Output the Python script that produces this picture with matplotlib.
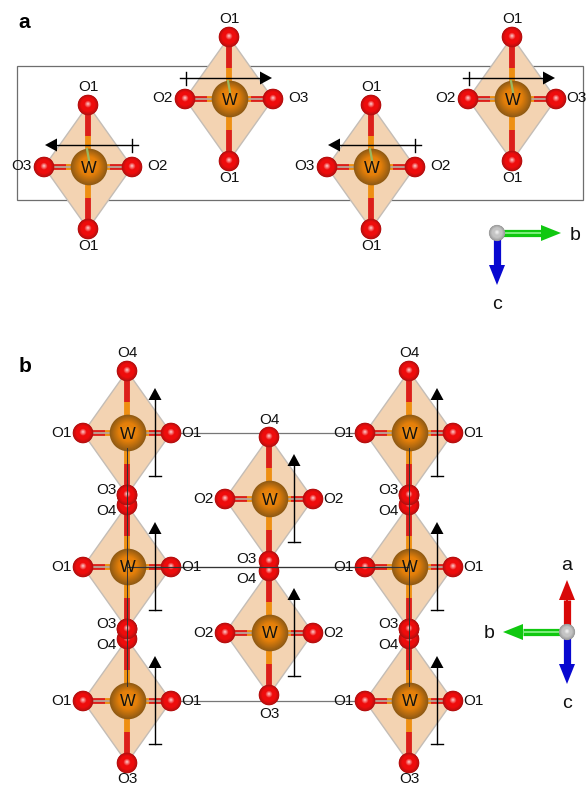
import matplotlib
matplotlib.use("Agg")
import matplotlib.pyplot as plt
import numpy as np
from matplotlib.colors import to_rgb
from matplotlib.patches import Circle, Polygon, Rectangle

plt.rcParams["font.family"] = ["Liberation Sans", "DejaVu Sans"]

# centres of the WO6 octahedra in pixels
panel_a_x = [88, 229, 371, 512]
panel_a_y = [167, 99, 167, 99]
panel_a_left = ["O3", "O2", "O3", "O2"]
panel_a_right = ["O2", "O3", "O2", "O3"]
panel_a_dir = [-1, 1, -1, 1]

panel_b_x = [127, 127, 127, 269, 269, 409, 409, 409]
panel_b_y = [433, 567, 701, 499, 633, 433, 567, 701]
panel_b_side = ["O1", "O1", "O1", "O2", "O2", "O1", "O1", "O1"]
panel_b_top = ["O4", "O4", "O4", "O4", "O4", "O4", "O4", "O4"]
panel_b_bottom = ["O3", "O3", "O3", "O3", "O3", "O3", "O3", "O3"]

cell_a = (17, 66, 583, 200)
cell_b_rows = [433, 567, 701]
cell_b_cols = [127, 409]

DX, DY = 44, 62
GOLD = "#f3d3b2"
ORANGE = "#ee8f12"
RED = "#dc1f1a"


def sphere(ax, x, y, r, dark, mid, light, z, ramp=2.5):
    dark, mid, light = map(np.array, map(to_rgb, (dark, mid, light)))
    steps = 30
    for i in range(steps):
        t = i / (steps - 1)
        col = dark + (mid - dark) * min(t * ramp, 1) + (light - mid) * max(t - 0.65, 0) / 0.35
        rr = r * (1 - t) + 0.3
        off = r * 0.12 * t
        ax.add_patch(Circle((x, y - off), rr, fc=np.clip(col, 0, 1), ec="none", zorder=z + i * 0.001))


def oxygen(ax, x, y, z=5):
    sphere(ax, x, y, 10, "#b01010", "#ee0c0c", "#ffc8c8", z, ramp=3)


def tungsten(ax, x, y):
    sphere(ax, x + 1, y, 18, "#8f5a14", "#e5800a", "#f2a02a", 4, ramp=2)


def bond(ax, x0, y0, x1, y1, horizontal):
    # red half at the oxygen end, orange half at the tungsten end
    xm, ym = (x0 + x1) / 2, (y0 + y1) / 2
    ax.plot([x0, xm], [y0, ym], color=ORANGE, lw=4.2, solid_capstyle="butt", zorder=3)
    ax.plot([xm, x1], [ym, y1], color=RED, lw=4.2, solid_capstyle="butt", zorder=3)
    if horizontal:
        ax.plot([x0, x1], [y0, y1], color="#b9a79a", lw=1.3, zorder=3.1)


def octahedron(ax, cx, cy, wedge=False):
    pts = [(cx, cy - DY), (cx + DX, cy), (cx, cy + DY), (cx - DX, cy)]
    ax.add_patch(Polygon(pts, closed=True, fc=GOLD, ec="#c4bdb6", lw=1.0, zorder=2))
    for ox, oy in pts:
        bond(ax, cx, cy, ox, oy, oy == cy)
    tungsten(ax, cx, cy)
    if wedge:
        ax.plot([cx - 1, cx + 1], [cy - 18, cy - 7], color="#9cb860", lw=1.6, zorder=4.5)
    for ox, oy in pts:
        oxygen(ax, ox, oy)
    ax.text(cx + 1, cy + 1, "W", ha="center", va="center", fontsize=12, color="#111111", zorder=8)


def moment(ax, x0, y0, x1, y1):
    # spin arrow: plain tick near the tail, filled head at the tip
    ax.plot([x0, x1], [y0, y1], color="black", lw=1.0, zorder=9)
    if y0 == y1:
        s = np.sign(x1 - x0)
        ax.plot([x0 + s * 6] * 2, [y0 - 6.5, y0 + 6.5], color="black", lw=1.0, zorder=9)
        ax.add_patch(Polygon([(x1 + s * 11, y1), (x1 - s * 1, y1 - 6.5), (x1 - s * 1, y1 + 6.5)],
                             fc="black", ec="none", zorder=9))
    else:
        ax.plot([x0 - 6, x0 + 6], [y0, y0], color="black", lw=1.0, zorder=9)
        ax.add_patch(Polygon([(x1, y1 - 11), (x1 - 6.5, y1 + 1), (x1 + 6.5, y1 + 1)],
                             fc="black", ec="none", zorder=9))


def axis_arrow(ax, x0, y0, dx, dy, color, light):
    length = np.hypot(dx, dy)
    ux, uy = dx / length, dy / length
    nx, ny = -uy, ux
    bx, by = x0 + dx - ux * 20, y0 + dy - uy * 20
    ax.plot([x0, bx], [y0, by], color=color, lw=5.2, solid_capstyle="butt", zorder=3)
    ax.plot([x0, bx], [y0, by], color=light, lw=1.4, solid_capstyle="butt", zorder=3.1)
    ax.add_patch(Polygon([(x0 + dx, y0 + dy), (bx + nx * 8, by + ny * 8), (bx - nx * 8, by - ny * 8)],
                         fc=color, ec="none", zorder=3.2))


def label(ax, x, y, s, size=11):
    ax.text(x, y, s, ha="center", va="center", fontsize=size, color="#111111", zorder=10)


fig = plt.figure(figsize=(5.88, 7.89), dpi=100, facecolor="white")
ax = fig.add_axes([0, 0, 1, 1])
ax.set_xlim(0, 588)
ax.set_ylim(789, 0)
ax.axis("off")

# panel a
x0, y0, x1, y1 = cell_a
ax.add_patch(Rectangle((x0, y0), x1 - x0, y1 - y0, fc="none", ec="#6e6e6e", lw=0.9, zorder=1))
for cx, cy, left, right, d in zip(panel_a_x, panel_a_y, panel_a_left, panel_a_right, panel_a_dir):
    octahedron(ax, cx, cy, wedge=True)
    label(ax, cx, cy - DY - 18, "O1")
    label(ax, cx, cy + DY + 17, "O1")
    label(ax, cx - DX - 23, cy - 1, left)
    label(ax, min(cx + DX + 25, 576), cy - 1, right)
    if d < 0:
        moment(ax, cx + 50, cy - 22, cx - 32, cy - 22)
    else:
        moment(ax, cx - 49, cy - 21, cx + 32, cy - 21)

# panel b, cell edges first
for y, c in zip(cell_b_rows, ["#777777", "#444444", "#777777"]):
    ax.plot(cell_b_cols, [y, y], color=c, lw=0.9, zorder=1)

for cx, cy, side in zip(panel_b_x, panel_b_y, panel_b_side):
    octahedron(ax, cx, cy)
    label(ax, cx - DX - 22, cy, side)
    label(ax, cx + DX + 20, cy, side)
    off = 25 if cx == 269 else 28
    moment(ax, cx + off, cy + 43, cx + off, cy - 34)

for c in cell_b_cols:
    ax.plot([c, c], [cell_b_rows[0] + 15, cell_b_rows[-1] - 15], color="#333333", lw=0.7, zorder=7)
ax.plot(cell_b_cols, [cell_b_rows[1]] * 2, color="#333333", lw=0.8, zorder=7)

# the O3/O4 pairs that overlap between stacked octahedra
for cx, cy in zip(panel_b_x, panel_b_y):
    if cy + DY + 20 < 720 and cx != 269:
        oxygen(ax, cx, cy + DY, z=6)

for cx, cy, top, bottom in zip(panel_b_x, panel_b_y, panel_b_top, panel_b_bottom):
    if cx == 269:
        if cy == 499:
            label(ax, cx, cy - DY - 17, top)
            label(ax, cx - 23, cy + DY - 2, bottom)
        else:
            label(ax, cx - 23, cy - DY + 8, top)
            label(ax, cx, cy + DY + 19, bottom)
    else:
        if cy == cell_b_rows[0]:
            label(ax, cx, cy - DY - 18, top)
        else:
            label(ax, cx - 21, cy - DY + 6, top)
        if cy == cell_b_rows[-1]:
            label(ax, cx, cy + DY + 16, bottom)
        else:
            label(ax, cx - 21, cy + DY - 5, bottom)

# orientation triads
axis_arrow(ax, 497, 233, 64, 0, "#10c810", "#7cf07c")
axis_arrow(ax, 497, 233, 0, 52, "#0808d0", "#0808d0")
sphere(ax, 497, 233, 7.8, "#989898", "#c4c4c4", "#f4f4f4", 4)
label(ax, 575, 235, "b", 14)
label(ax, 497, 304, "c", 14)

axis_arrow(ax, 567, 632, 0, -52, "#d80808", "#d80808")
axis_arrow(ax, 567, 632, -64, 0, "#10c810", "#7cf07c")
axis_arrow(ax, 567, 632, 0, 52, "#0808d0", "#0808d0")
sphere(ax, 567, 632, 7.8, "#989898", "#c4c4c4", "#f4f4f4", 4)
label(ax, 567, 565, "a", 14)
label(ax, 489, 634, "b", 14)
label(ax, 567, 703, "c", 14)

ax.text(24, 22, "a", ha="center", va="center", fontsize=15, fontweight="bold", color="black")
ax.text(25, 366, "b", ha="center", va="center", fontsize=15, fontweight="bold", color="black")

fig.savefig("out.png", dpi=100)
